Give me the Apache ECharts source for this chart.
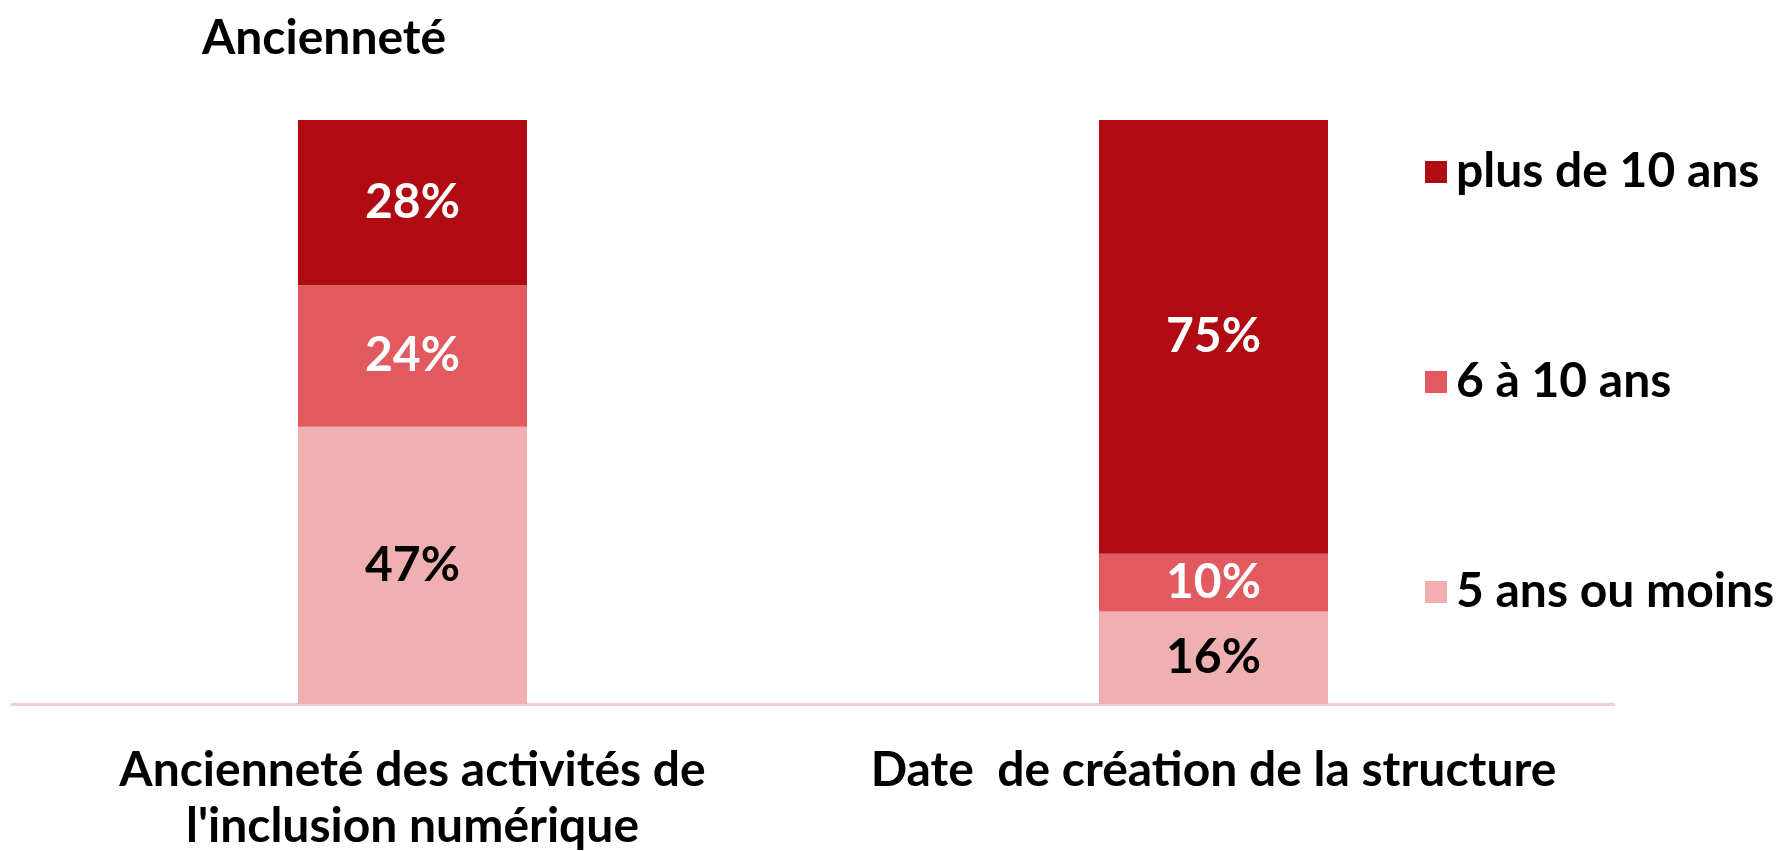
<!DOCTYPE html>
<html>
<head>
<meta charset="utf-8">
<script src="https://cdn.jsdelivr.net/npm/echarts@6/dist/echarts.min.js"></script>
<style>
  html, body { margin: 0; padding: 0; background: #fff; }
  #chart { width: 1786px; height: 851px; }
</style>
</head>
<body>
<div id="chart"></div>
<script>
// catégories et valeurs
var categories = ["Ancienneté des activités de\nl'inclusion numérique", "Date  de création de la structure"];
var seriesNames = ["5 ans ou moins", "6 à 10 ans", "plus de 10 ans"];
var moins5 = [47, 16];
var de6a10 = [24, 10];
var plus10 = [28, 75];

var FONT = "Lato";
var couleurs = ["#f0b0b2", "#e05a60", "#b00a12"];
var labelCouleurs = ["#000000", "#ffffff", "#ffffff"];
var valeurs = [moins5, de6a10, plus10];

// empilement à 100% : chaque barre ramenée au total de sa catégorie
var totaux = categories.map(function (c, j) {
  return valeurs.reduce(function (s, v) { return s + v[j]; }, 0);
});

var series = [];
for (var i = 0; i < seriesNames.length; i++) {
  series.push({
    name: seriesNames[i],
    type: "bar",
    stack: "total",
    barWidth: 229,
    data: valeurs[i].map(function (v, j) {
      return { value: v / totaux[j] * 100, brut: v };
    }),
    itemStyle: { color: couleurs[i] },
    label: {
      show: true,
      position: "inside",
      formatter: function (p) { return p.data.brut + "%"; },
      color: labelCouleurs[i],
      fontFamily: FONT,
      fontWeight: "bold",
      fontSize: 48
    }
  });
}

var chart = echarts.init(document.getElementById("chart"));
chart.setOption({
  animation: false,
  title: {
    text: "Ancienneté",
    left: 197,
    top: 10,
    textStyle: { color: "#000", fontFamily: FONT, fontSize: 48, fontWeight: "bold" }
  },
  legend: {
    orient: "vertical",
    left: 1420,
    top: 142,
    itemWidth: 22,
    itemHeight: 22,
    itemGap: 160,
    icon: "rect",
    data: ["plus de 10 ans", "6 à 10 ans", "5 ans ou moins"],
    textStyle: { color: "#000", fontFamily: FONT, fontSize: 48, fontWeight: "bold", lineHeight: 50, padding: [0, 0, 0, 4] }
  },
  grid: { left: 12, right: 172, top: 120, bottom: 147, outerBoundsMode: "none" },
  xAxis: {
    type: "category",
    data: categories,
    axisLine: { lineStyle: { color: "#f5cdd1", width: 3 } },
    axisTick: { show: false },
    axisLabel: {
      interval: 0,
      margin: 39,
      color: "#000",
      fontFamily: FONT,
      fontWeight: "bold",
      fontSize: 48,
      lineHeight: 56
    }
  },
  yAxis: {
    type: "value",
    min: 0,
    max: 100,
    show: false,
    splitLine: { show: false }
  },
  series: series
});
</script>
</body>
</html>
